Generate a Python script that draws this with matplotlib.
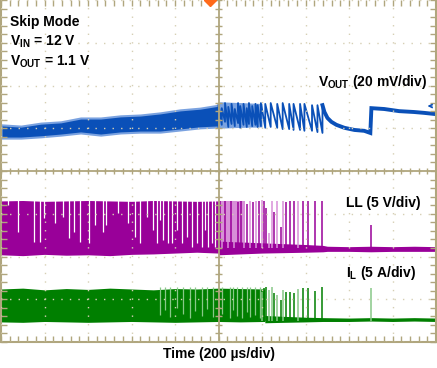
import matplotlib
matplotlib.use('Agg')
import matplotlib.pyplot as plt
import numpy as np

# time in us (200 us/div), amplitudes in screen divisions (0 = bottom, 8 = top)

# V_OUT: noisy band before the switching thins out
vout_band_t = [0, 92, 183, 275, 366, 458, 549, 641, 732, 824, 915, 1000]
vout_band_hi = [5.08, 5.05, 5.12, 5.15, 5.24, 5.24, 5.29, 5.31, 5.36, 5.43, 5.47, 5.54]
vout_band_lo = [4.77, 4.77, 4.80, 4.84, 4.89, 4.84, 4.89, 4.91, 4.91, 4.96, 5.01, 5.03]

# V_OUT: ripple teeth (sharp rise, slow decay)
vout_tooth_t = [1000, 1015, 1030, 1045, 1060, 1075, 1090, 1100, 1115, 1130, 1140, 1155, 1170,
                1180, 1195, 1215, 1240, 1270, 1295, 1325, 1345, 1375, 1395, 1430, 1455, 1478]
vout_tooth_hi = [5.57, 5.47, 5.59, 5.50, 5.57, 5.45, 5.59, 5.52, 5.57, 5.47, 5.59, 5.52, 5.57,
                 5.54, 5.59, 5.57, 5.59, 5.57, 5.59, 5.57, 5.57, 5.57, 5.57, 5.54, 5.54, 5.54]
vout_tooth_lo = [5.08, 5.15, 5.03, 5.10, 5.05, 5.12, 5.01, 5.08, 5.03, 5.10, 5.05, 5.08, 5.03,
                 5.05, 5.01, 5.03, 5.01, 4.98, 4.98, 4.96, 4.96, 4.94, 4.94, 4.91, 4.89]

# V_OUT: decay, load step and recovery
vout_tail_t = [1478, 1487, 1501, 1519, 1542, 1579, 1625, 1670, 1698, 1703, 1762, 1831, 1899, 1945, 2000]
vout_tail_v = [5.54, 5.38, 5.24, 5.15, 5.08, 5.01, 4.96, 4.94, 4.89, 5.47, 5.45, 5.40, 5.38, 5.36, 5.33]

# LL: dense switching band
ll_band_t = [0, 100, 200, 300, 400, 500, 600, 700, 800, 900, 1000]
ll_band_hi = [3.30, 3.31, 3.29, 3.30, 3.31, 3.30, 3.29, 3.31, 3.30, 3.29, 3.30]
ll_band_lo = [2.04, 2.02, 2.05, 2.03, 2.04, 2.02, 2.05, 2.06, 2.08, 2.10, 2.08]

# LL: gaps in the dense band (time, lowest level of gap)
ll_gap_t = [32, 78, 151, 178, 197, 247, 284, 311, 334, 362, 403, 430, 471, 485, 540, 586, 618,
            641, 673, 700, 719, 732, 746, 769, 787, 810, 833, 856, 879, 902, 925, 938, 952, 970, 984]
ll_gap_lo = [3.20, 2.57, 2.34, 2.34, 2.90, 2.78, 2.92, 2.43, 2.57, 2.34, 2.32, 2.74, 2.57, 2.74,
             3.02, 2.78, 2.46, 2.32, 2.92, 2.62, 2.32, 2.85, 2.39, 2.32, 2.32, 2.62, 2.32, 2.46,
             2.22, 2.32, 2.22, 2.62, 2.22, 2.32, 2.22]

# LL: baseline once pulses become sparse
ll_base_t = [1000, 1100, 1200, 1300, 1400, 1480, 1500, 1600, 1700, 1800, 1900, 2000]
ll_base_hi = [2.36, 2.34, 2.32, 2.30, 2.28, 2.26, 2.24, 2.23, 2.24, 2.23, 2.24, 2.23]
ll_base_lo = [2.04, 2.06, 2.08, 2.09, 2.10, 2.11, 2.12, 2.12, 2.11, 2.12, 2.12, 2.12]

# individual switching pulses (shared by LL and IL)
pulse_t = [1005, 1018, 1030, 1045, 1058, 1072, 1090, 1103, 1117, 1130, 1144, 1158, 1172, 1185,
           1199, 1208, 1217, 1231, 1245, 1254, 1268, 1286, 1295, 1309, 1327, 1346, 1364, 1387,
           1410, 1442, 1474]
pulse_light = [0, 1, 0, 1, 0, 1, 0, 0, 1, 0, 1, 0, 1, 0,
               1, 0, 0, 1, 1, 0, 1, 0, 1, 0, 0, 0, 1, 0,
               0, 0, 0]
ll_pulse_top = [3.30, 3.28, 3.30, 3.25, 3.30, 3.30, 3.27, 3.30, 3.30, 3.22, 3.30, 3.28, 3.30, 3.30,
                3.32, 3.30, 3.13, 2.55, 3.30, 3.04, 3.30, 2.69, 3.30, 3.28, 3.30, 3.30, 3.30, 3.30,
                3.30, 3.30, 3.30]
il_pulse_top = [1.25, 1.25, 1.25, 1.25, 1.25, 1.25, 1.25, 1.25, 1.25, 1.25, 1.25, 1.25, 1.25, 1.25,
                1.18, 1.26, 1.28, 1.22, 1.28, 1.15, 1.10, 0.98, 1.22, 1.18, 1.18, 1.15, 1.24, 1.26,
                1.26, 1.20, 1.28]

# lone pulse at the load step
step_t = 1703
ll_step_top = 2.74
il_step_top = 1.26

# IL: dense band
il_band_t = [0, 100, 200, 300, 400, 500, 600, 700, 800, 900, 1000, 1100, 1213]
il_band_hi = [1.24, 1.26, 1.22, 1.25, 1.23, 1.26, 1.24, 1.22, 1.25, 1.24, 1.26, 1.25, 1.24]
il_band_lo = [0.47, 0.46, 0.48, 0.47, 0.46, 0.47, 0.48, 0.47, 0.46, 0.47, 0.48, 0.47, 0.48]

il_gap_t = [732, 755, 778, 810, 838, 870, 892, 925, 947, 975, 1016, 1053, 1066, 1085, 1108,
            1130, 1144, 1167, 1190]
il_gap_lo = [0.62, 0.75, 0.58, 0.80, 0.65, 0.56, 0.72, 0.60, 0.78, 0.58, 0.66, 0.57, 0.74, 0.60,
             0.56, 0.70, 0.58, 0.62, 0.56]

il_base_t = [1213, 1300, 1400, 1480, 1600, 1700, 1800, 1900, 2000]
il_base_hi = [0.62, 0.60, 0.58, 0.57, 0.56, 0.57, 0.56, 0.57, 0.56]
il_base_lo = [0.45, 0.46, 0.47, 0.48, 0.48, 0.49, 0.48, 0.49, 0.48]

trigger_t = 961

blue, blue_lt = '#0a50b8', '#7aa2e0'
purple, purple_lt = '#990099', '#d890d8'
green, green_lt = '#007f00', '#88c888'
tan = '#b0a67e'

fig = plt.figure(figsize=(4.37, 3.68), dpi=100)
ax = fig.add_axes([1 / 437, 26 / 368, 435 / 437, 342 / 368])
ax.set_xlim(0, 2000)
ax.set_ylim(0, 8)

# V_OUT
ax.fill_between(vout_band_t, vout_band_lo, vout_band_hi, color=blue, lw=1.5, edgecolor=blue_lt)
ax.fill_between([1000, 1100, 1200], [5.00, 5.02, 5.03], [5.62, 5.60, 5.58], color=blue_lt, lw=0)
saw_x, saw_y = [vout_tooth_t[0]], [vout_band_lo[-1]]
for i, t in enumerate(vout_tooth_t):
    saw_x.append(t)
    saw_y.append(vout_tooth_hi[i])
    if i < len(vout_tooth_lo):
        saw_x.append(vout_tooth_t[i + 1])
        saw_y.append(vout_tooth_lo[i])
ax.plot(saw_x, saw_y, color=blue, lw=1.3)
ax.plot(vout_tail_t, vout_tail_v, color=blue, lw=2.8, solid_joinstyle='miter')
ax.annotate('', xy=(1948, 5.52), xytext=(1995, 5.52),
            arrowprops=dict(arrowstyle='->', color=blue, lw=1, mutation_scale=6))

# LL
ax.fill_between(ll_band_t, ll_band_lo, ll_band_hi, color=purple, lw=0)
ax.vlines(ll_gap_t, ll_gap_lo, 3.32, color='white', lw=0.9)
ax.fill_between([1000, 1060, 1120], [2.3, 2.3, 2.3], [3.3, 3.3, 3.3], color=purple_lt, lw=0)
ax.fill_between(ll_base_t, ll_base_lo, ll_base_hi, color=purple, lw=0)
for t, top, lt in zip(pulse_t, ll_pulse_top, pulse_light):
    ax.vlines(t, 2.2, top, color=purple_lt if lt else purple, lw=1.1)
ax.vlines(step_t, 2.2, ll_step_top, color=purple, lw=1.1)

# IL
ax.fill_between(il_band_t, il_band_lo, il_band_hi, color=green, lw=0)
ax.vlines(il_gap_t, il_gap_lo, 1.28, color=green_lt, lw=0.9)
ax.fill_between(il_base_t, il_base_lo, il_base_hi, color=green, lw=0)
for t, top, lt in zip(pulse_t, il_pulse_top, pulse_light):
    if t > 1195:
        ax.vlines(t, 0.5, top, color=green_lt if lt else green, lw=1.1)
ax.vlines(step_t, 0.5, il_step_top, color=green_lt, lw=1.1)

# scope graticule
ax.set_xticks(np.arange(0, 2001, 200))
ax.set_xticks(np.arange(0, 2001, 40), minor=True)
ax.set_yticks(np.arange(0, 9, 1))
ax.set_yticks(np.arange(0, 8.01, 0.2), minor=True)
ax.tick_params(which='both', direction='in', top=True, right=True, length=4, width=1,
               color=tan, labelbottom=False, labelleft=False)
ax.set_axisbelow(False)
ax.grid(which='major', color='#d6cfb4', lw=1, linestyle=(0, (1, 5.15)))
for side in ['left', 'right', 'bottom']:
    ax.spines[side].set_color(tan)
    ax.spines[side].set_linewidth(1.5)
ax.spines['top'].set_visible(False)
ax.axvline(1000, color=tan, lw=1.3, zorder=3)
ax.axhline(4, color=tan, lw=1.3, zorder=3)
ax.vlines(np.arange(0, 2001, 40), 3.93, 4.07, color=tan, lw=1, zorder=3)
ax.hlines(np.arange(0, 8.01, 0.2), 986, 1014, color=tan, lw=1, zorder=3)
ax.plot([trigger_t], [8.0], marker='D', color='#ff6a1a', ms=6, clip_on=False, zorder=4)

# labels
font = dict(family='Liberation Sans', weight='bold', size=10, va='baseline')
fig.text(10 / 437, 1 - 26 / 368, 'Skip Mode', **font)
fig.text(10 / 437, 1 - 46 / 368, r'$\mathregular{V_{IN}}$ = 12 V', **font)
fig.text(10 / 437, 1 - 66 / 368, r'$\mathregular{V_{OUT}}$ = 1.1 V', **font)
fig.text(318 / 437, 1 - 86 / 368, r'$\mathregular{V_{OUT}}$ (20 mV/div)', **font)
fig.text(346 / 437, 1 - 207 / 368, 'LL (5 V/div)', **font)
fig.text(346 / 437, 1 - 277 / 368, r'$\mathregular{I_{L}}$ (5 A/div)', **font)
fig.text(219 / 437, 1 - 358 / 368, 'Time (200 µs/div)', ha='center', **font)

fig.savefig('out.png', dpi=100)
